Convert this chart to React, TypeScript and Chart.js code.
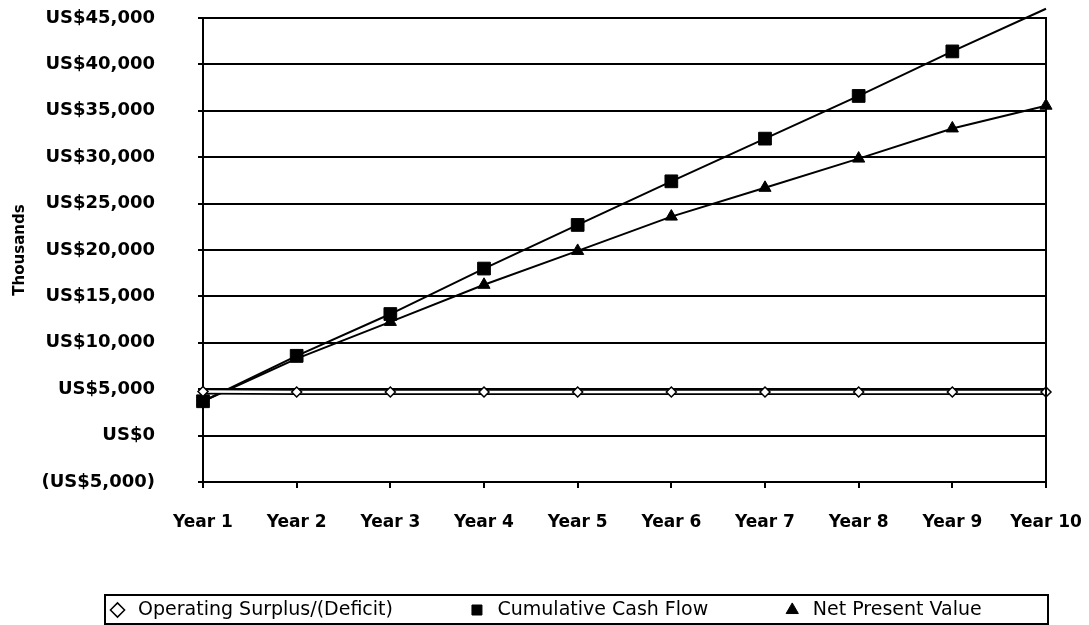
import React, { useEffect, useRef } from "react";
import { Chart, registerables } from "chart.js";

Chart.register(...registerables);

// ---- data ----
const categories = ["Year 1", "Year 2", "Year 3", "Year 4", "Year 5", "Year 6", "Year 7", "Year 8", "Year 9", "Year 10"];
const operatingSurplus = [4750, 4700, 4700, 4700, 4700, 4700, 4700, 4700, 4700, 4700];
const cumulativeCashFlow = [3700, 8600, 13100, 18000, 22700, 27400, 32000, 36600, 41400, 46000];
const netPresentValue = [3700, 8300, 12250, 16250, 19900, 23600, 26700, 29850, 33100, 35550];
const seriesLabels = ["Operating Surplus/(Deficit)", "Cumulative Cash Flow", "Net Present Value"];
const axisTitle = "Thousands";
const yMin = -5000;
const yMax = 45000;
const yStep = 5000;

const FONT = "'DejaVu Sans', sans-serif";
const LEGEND_PAD = 79;

function formatUSD(v: number): string {
  const s = "US$" + Math.abs(v).toLocaleString("en-US");
  return v < 0 ? "(" + s + ")" : s;
}

const decorPlugin = {
  id: "decor",
  afterLayout(chart: any) {
    const lg = chart.legend;
    const ca = chart.chartArea;
    if (!lg || !ca) return;
    lg.left = ca.left - 90.5 - LEGEND_PAD;
    lg.right = chart.width + 400;
    lg.width = lg.right - lg.left;
    lg.top = ca.bottom + 118.5 - LEGEND_PAD;
    lg.bottom = chart.height;
    lg.height = lg.bottom - lg.top;
  },
  afterDraw(chart: any) {
    const { ctx, chartArea: ca } = chart;
    ctx.save();
    ctx.strokeStyle = "#000";
    ctx.lineWidth = 2;
    ctx.beginPath();
    ctx.moveTo(ca.right, ca.top - 1);
    ctx.lineTo(ca.right, ca.bottom);
    ctx.stroke();
    ctx.strokeRect(ca.left - 98, ca.bottom + 113, ca.right - ca.left + 100, 29);
    ctx.restore();
  },
};

export default function App() {
  const ref = useRef<HTMLCanvasElement>(null);

  useEffect(() => {
    const canvas = ref.current;
    if (!canvas) return;
    const chart = new Chart(canvas, {
      type: "line",
      data: {
        labels: categories,
        datasets: [
          {
            label: seriesLabels[0],
            data: operatingSurplus,
            borderColor: "#fff",
            borderWidth: 2.5,
            pointStyle: "rectRot",
            pointRadius: 5,
            pointBackgroundColor: "#fff",
            pointBorderColor: "#000",
            pointBorderWidth: 1.5,
            tension: 0,
            clip: false,
          } as any,
          {
            label: seriesLabels[1],
            data: cumulativeCashFlow,
            borderColor: "#000",
            borderWidth: 2,
            pointStyle: "rect",
            pointRadius: (c: any) => (c.parsed && c.parsed.y > yMax ? 0 : 9),
            pointBackgroundColor: "#000",
            pointBorderColor: "#000",
            pointBorderWidth: 1,
            tension: 0,
            clip: false,
          } as any,
          {
            label: seriesLabels[2],
            data: netPresentValue,
            borderColor: "#000",
            borderWidth: 2,
            pointStyle: "triangle",
            pointRadius: 7,
            pointBackgroundColor: "#000",
            pointBorderColor: "#000",
            pointBorderWidth: 1,
            tension: 0,
            clip: false,
          } as any,
          {
            label: seriesLabels[0] + " outline",
            data: operatingSurplus,
            borderColor: "#000",
            borderWidth: 6,
            pointRadius: 0,
            tension: 0,
            clip: false,
          } as any,
        ],
      },
      options: {
        responsive: false,
        animation: false,
        devicePixelRatio: 1,
        layout: { autoPadding: false, padding: { left: 8, top: 18, right: 43, bottom: 0 } },
        plugins: {
          tooltip: { enabled: false },
          title: { display: false },
          legend: {
            display: true,
            position: "bottom",
            align: "start",
            maxHeight: 93,
            labels: {
              usePointStyle: true,
              boxWidth: 10,
              boxHeight: 10,
              padding: LEGEND_PAD,
              color: "#000",
              font: { family: FONT, size: 19 },
              filter: (item: any) => item.datasetIndex !== 3,
              generateLabels: (chart: any) => {
                const items = (Chart.defaults.plugins.legend.labels as any).generateLabels(chart);
                return items.map((it: any) => ({ ...it, text: " " + it.text }));
              },
            },
          },
        },
        scales: {
          x: {
            type: "category",
            offset: false,
            afterFit: (s: any) => {
              s.height = 50;
              s.paddingLeft = 0;
              s.paddingRight = 0;
            },
            grid: {
              display: true,
              drawOnChartArea: false,
              drawTicks: true,
              tickLength: 6,
              color: "#000",
              lineWidth: 2,
            },
            border: { display: true, color: "#000", width: 2 },
            ticks: {
              color: "#000",
              padding: 24,
              maxRotation: 0,
              autoSkip: false,
              font: { family: FONT, size: 17, weight: "bold" },
            },
          },
          y: {
            min: yMin,
            max: yMax,
            afterFit: (s: any) => {
              s.width = 195;
              s.paddingTop = 0;
              s.paddingBottom = 0;
            },
            grid: {
              color: "#000",
              lineWidth: 2,
              drawTicks: true,
              tickLength: 5,
            },
            border: { display: true, color: "#000", width: 2 },
            ticks: {
              stepSize: yStep,
              color: "#000",
              padding: 43,
              font: { family: FONT, size: 18, weight: "bold" },
              callback: (v: any) => formatUSD(Number(v)),
            },
            title: {
              display: true,
              text: axisTitle,
              color: "#000",
              padding: { top: 3, bottom: 0 },
              font: { family: FONT, size: 15, weight: "bold" },
            },
          },
        },
      } as any,
      plugins: [decorPlugin],
    });
    return () => chart.destroy();
  }, []);

  return (
    <div style={{ position: "fixed", left: 0, top: 0, width: 1089, height: 625, background: "#fff" }}>
      <canvas ref={ref} width={1089} height={625} style={{ display: "block" }} />
    </div>
  );
}
